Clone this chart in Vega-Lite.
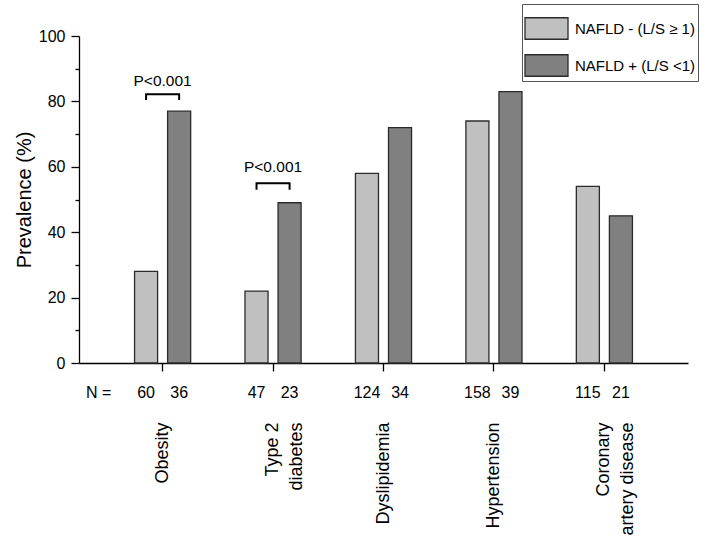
{
  "$schema": "https://vega.github.io/schema/vega-lite/v6.json",
  "width": 609,
  "height": 327,
  "autosize": {"type": "none"},
  "padding": {"left": 79, "top": 36, "right": 20, "bottom": 175},
  "config": {
    "font": "Liberation Sans",
    "view": {"stroke": null},
    "axis": {"domainColor": "#000", "tickColor": "#000", "labelColor": "#000", "titleColor": "#000", "domainWidth": 1.3, "tickWidth": 1.3, "grid": false}
  },
  "resolve": {"axis": {"y": "independent"}},
  "datasets": {
    "bars": [
      {"disease": "Obesity", "group": "NAFLD - (L/S ≥ 1)", "prevalence": 28, "n": "60"},
      {"disease": "Obesity", "group": "NAFLD + (L/S <1)", "prevalence": 77, "n": "36"},
      {"disease": "Type 2 diabetes", "group": "NAFLD - (L/S ≥ 1)", "prevalence": 22, "n": "47"},
      {"disease": "Type 2 diabetes", "group": "NAFLD + (L/S <1)", "prevalence": 49, "n": "23"},
      {"disease": "Dyslipidemia", "group": "NAFLD - (L/S ≥ 1)", "prevalence": 58, "n": "124"},
      {"disease": "Dyslipidemia", "group": "NAFLD + (L/S <1)", "prevalence": 72, "n": "34"},
      {"disease": "Hypertension", "group": "NAFLD - (L/S ≥ 1)", "prevalence": 74, "n": "158"},
      {"disease": "Hypertension", "group": "NAFLD + (L/S <1)", "prevalence": 83, "n": "39"},
      {"disease": "Coronary artery disease", "group": "NAFLD - (L/S ≥ 1)", "prevalence": 54, "n": "115"},
      {"disease": "Coronary artery disease", "group": "NAFLD + (L/S <1)", "prevalence": 45, "n": "21"}
    ],
    "brackets": [
      {"disease": "Obesity", "group": "NAFLD - (L/S ≥ 1)", "step": 1, "level": 80.4},
      {"disease": "Obesity", "group": "NAFLD - (L/S ≥ 1)", "step": 2, "level": 82.2},
      {"disease": "Obesity", "group": "NAFLD + (L/S <1)", "step": 3, "level": 82.2},
      {"disease": "Obesity", "group": "NAFLD + (L/S <1)", "step": 4, "level": 80.4},
      {"disease": "Type 2 diabetes", "group": "NAFLD - (L/S ≥ 1)", "step": 1, "level": 53.0},
      {"disease": "Type 2 diabetes", "group": "NAFLD - (L/S ≥ 1)", "step": 2, "level": 55.0},
      {"disease": "Type 2 diabetes", "group": "NAFLD + (L/S <1)", "step": 3, "level": 55.0},
      {"disease": "Type 2 diabetes", "group": "NAFLD + (L/S <1)", "step": 4, "level": 53.0}
    ],
    "pvalues": [
      {"disease": "Obesity", "label": "P<0.001", "level": 86.1},
      {"disease": "Type 2 diabetes", "label": "P<0.001", "level": 59.8}
    ]
  },
  "layer": [
    {
      "data": {"name": "bars"},
      "mark": {"type": "bar", "stroke": "#2b2b2b", "strokeWidth": 1.3},
      "encoding": {
        "x": {
          "field": "disease", "type": "nominal", "sort": null,
          "scale": {"paddingInner": 0.492, "paddingOuter": 0.503},
          "axis": {
            "title": null, "labelAngle": -90, "labelAlign": "right", "labelBaseline": "middle",
            "labelFontSize": 18, "tickSize": 8, "labelPadding": 51, "labelLineHeight": 24, "labelLimit": 0,
            "labelExpr": "datum.value == 'Type 2 diabetes' ? ['Type 2', 'diabetes'] : datum.value == 'Coronary artery disease' ? ['Coronary', 'artery disease'] : datum.value"
          }
        },
        "xOffset": {
          "field": "group", "type": "nominal", "sort": ["NAFLD - (L/S ≥ 1)", "NAFLD + (L/S <1)"],
          "scale": {"paddingInner": 0.303, "paddingOuter": 0}
        },
        "y": {
          "field": "prevalence", "type": "quantitative",
          "scale": {"domain": [0, 100]},
          "axis": {"orient": "left", "values": [0, 20, 40, 60, 80, 100], "title": "Prevalence (%)", "titleFontSize": 20, "titleFontWeight": "normal", "labelFontSize": 16, "tickSize": 8, "labelPadding": 6, "titlePadding": 4}
        },
        "fill": {
          "field": "group", "type": "nominal",
          "scale": {"domain": ["NAFLD - (L/S ≥ 1)", "NAFLD + (L/S <1)"], "range": ["#c0c0c0", "#808080"]},
          "legend": {
            "orient": "none", "legendX": 443, "legendY": -32, "title": null,
            "strokeColor": "#555", "fillColor": "#fff", "padding": 2,
            "symbolType": "M-1,-0.5H1V0.5H-1Z", "symbolSize": 1849,
            "symbolStrokeColor": "#2b2b2b", "symbolStrokeWidth": 1.3,
            "labelFontSize": 15, "labelFont": "Liberation Sans", "labelColor": "#000",
            "labelOffset": 6, "rowPadding": 1, "labelLimit": 300
          }
        }
      }
    },
    {
      "data": {"name": "bars"},
      "mark": {"type": "text", "fontSize": 16, "baseline": "middle", "color": "#000"},
      "encoding": {
        "x": {"field": "disease", "type": "nominal", "sort": null},
        "xOffset": {"field": "group", "type": "nominal", "sort": ["NAFLD - (L/S ≥ 1)", "NAFLD + (L/S <1)"]},
        "y": {"datum": -9.2, "type": "quantitative", "axis": null},
        "text": {"field": "n"}
      }
    },
    {
      "data": {"values": [{"label": "N ="}]},
      "mark": {"type": "text", "fontSize": 16, "baseline": "middle", "color": "#000", "dx": -64},
      "encoding": {
        "x": {"datum": "Obesity", "type": "nominal"},
        "y": {"datum": -9.2, "type": "quantitative", "axis": null},
        "text": {"field": "label"}
      }
    },
    {
      "data": {"name": "brackets"},
      "mark": {"type": "line", "color": "#000", "strokeWidth": 2},
      "encoding": {
        "x": {"field": "disease", "type": "nominal", "sort": null},
        "xOffset": {"field": "group", "type": "nominal", "sort": ["NAFLD - (L/S ≥ 1)", "NAFLD + (L/S <1)"]},
        "y": {
          "field": "level", "type": "quantitative",
          "axis": {"orient": "left", "values": [10, 30, 50, 70, 90], "labels": false, "tickSize": 4, "domain": false, "title": null, "grid": false}
        },
        "detail": {"field": "disease"},
        "order": {"field": "step"}
      }
    },
    {
      "data": {"name": "pvalues"},
      "mark": {"type": "text", "fontSize": 15.5, "baseline": "middle", "color": "#000"},
      "encoding": {
        "x": {"field": "disease", "type": "nominal", "sort": null},
        "y": {"field": "level", "type": "quantitative", "axis": null},
        "text": {"field": "label"}
      }
    }
  ]
}
